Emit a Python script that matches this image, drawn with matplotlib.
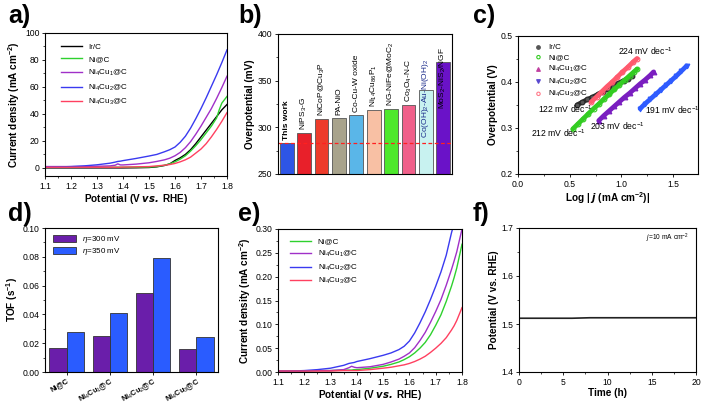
import matplotlib
matplotlib.use("Agg")
import matplotlib.pyplot as plt
from matplotlib.ticker import MultipleLocator, AutoMinorLocator

plt.rcParams['font.family'] = ['Liberation Sans', 'DejaVu Sans']
plt.rcParams['mathtext.fontset'] = 'custom'
plt.rcParams['mathtext.rm'] = 'Liberation Sans'
plt.rcParams['mathtext.it'] = 'Liberation Sans:italic'
plt.rcParams['mathtext.bf'] = 'Liberation Sans:bold'

# ---------------- data ----------------
# panel a: LSV curves
pot_a = [1.10, 1.15, 1.20, 1.25, 1.30, 1.35, 1.37, 1.38, 1.39, 1.40, 1.45, 1.50, 1.53, 1.56,
         1.58, 1.60, 1.62, 1.64, 1.66, 1.68, 1.70, 1.72, 1.74, 1.76, 1.77, 1.78, 1.80]
a_irc = [0, 0, 0, 0, 0, 0, 0, 0, 0, 0, 0.1, 0.3, 0.8, 1.8, 3.0, 5.5, 7.5, 10, 13.5, 18, 23, 28,
         33, 38, 40.5, 43, 47]
a_nic = [0.5, 0.5, 0.5, 0.5, 0.5, 0.5, 0.5, 0.5, 0.5, 0.5, 0.5, 0.6, 1.0, 2.0, 3.0, 4.5, 6.5,
         9.0, 12.5, 16.5, 21, 26, 31, 37, 43, 48, 53]
a_cu1 = [1.0, 1.0, 1.0, 1.1, 1.2, 1.5, 2.0, 3.0, 2.2, 2.2, 2.8, 3.8, 4.8, 6.0, 7.2, 9.0, 11.5,
         15, 19.5, 25, 31, 37.5, 44, 51.5, 55.5, 59.5, 68]
a_cu2 = [0.5, 0.7, 1.0, 1.5, 2.3, 3.5, 4.3, 4.8, 5.0, 5.4, 7.0, 8.8, 10, 12, 13.5, 15.5, 19,
         23.5, 29.5, 36.5, 44, 52, 60.5, 69, 73.5, 78, 87.5]
a_cu3 = [0.5, 0.5, 0.5, 0.5, 0.5, 0.5, 0.5, 0.5, 0.5, 0.6, 0.8, 1.0, 1.5, 2.0, 2.5, 3.3, 4.5,
         6.0, 8.0, 11, 14, 18, 23, 28.5, 31.5, 34.5, 41]

# panel b: overpotential comparison
b_names = ['This work', 'NiPS$_3$-G', 'NiCoP@Cu$_3$P', 'PA-NiO', 'Co-Cu-W oxide',
           'Ni$_{14}$Cu$_{86}$P$_1$', 'NG-NiFe@MoC$_2$', 'Co$_3$O$_4$-N-C',
           'Co(OH)$_2$-Au-Ni(OH)$_2$', 'MoS$_2$-NiS$_2$/NGF']
b_values = [283, 294, 309, 310, 313, 319, 320, 324, 340, 370]
b_colors = ['#2e55e6', '#e8202a', '#ee3b2a', '#a8a38c', '#5ab6e8', '#f8c0a4', '#4ee82c',
            '#f0608a', '#c8f2f0', '#6a12c8']

# panel c: Tafel plots
c_irc_x = [0.57, 0.62, 0.67, 0.72, 0.77, 0.82, 0.87, 0.92, 0.97, 1.02, 1.06, 1.10]
c_irc_y = [0.350, 0.356, 0.362, 0.367, 0.373, 0.379, 0.385, 0.391, 0.397, 0.403, 0.407, 0.412]
c_nic_x = [0.53, 0.58, 0.63, 0.68, 0.73, 0.78, 0.83, 0.88, 0.93, 0.98, 1.03, 1.08, 1.12, 1.15]
c_nic_y = [0.298, 0.309, 0.320, 0.331, 0.342, 0.352, 0.363, 0.373, 0.384, 0.394, 0.404,
           0.414, 0.422, 0.428]
c_cu1_x = [0.78, 0.83, 0.88, 0.93, 0.98, 1.03, 1.08, 1.13, 1.18, 1.23, 1.28, 1.31]
c_cu1_y = [0.316, 0.327, 0.337, 0.347, 0.357, 0.367, 0.376, 0.386, 0.396, 0.405, 0.415, 0.422]
c_cu2_x = [1.18, 1.23, 1.28, 1.33, 1.38, 1.43, 1.48, 1.53, 1.58, 1.63]
c_cu2_y = [0.342, 0.353, 0.363, 0.373, 0.383, 0.393, 0.403, 0.413, 0.424, 0.435]
c_cu3_x = [0.71, 0.76, 0.81, 0.86, 0.91, 0.96, 1.01, 1.06, 1.11, 1.15]
c_cu3_y = [0.357, 0.368, 0.379, 0.390, 0.400, 0.411, 0.422, 0.432, 0.443, 0.451]
c_slopes = ['122 mV dec$^{-1}$', '212 mV dec$^{-1}$', '203 mV dec$^{-1}$',
            '191 mV dec$^{-1}$', '224 mV dec$^{-1}$']

# panel d: TOF
d_cats = ['Ni@C', 'Ni$_4$Cu$_1$@C', 'Ni$_4$Cu$_2$@C', 'Ni$_4$Cu$_3$@C']
d_tof300 = [0.017, 0.025, 0.055, 0.016]
d_tof350 = [0.0275, 0.041, 0.079, 0.024]

# panel e: low current region
pot_e = pot_a
e_nic = [0.002, 0.002, 0.002, 0.003, 0.003, 0.004, 0.004, 0.004, 0.005, 0.005, 0.008, 0.012,
         0.016, 0.021, 0.026, 0.032, 0.040, 0.050, 0.062, 0.078, 0.098, 0.120, 0.148, 0.180,
         0.198, 0.218, 0.268]
e_cu1 = [0.002, 0.002, 0.002, 0.003, 0.003, 0.005, 0.009, 0.012, 0.010, 0.009, 0.011, 0.016,
         0.021, 0.027, 0.033, 0.040, 0.051, 0.066, 0.083, 0.104, 0.127, 0.152, 0.182, 0.215,
         0.233, 0.252, 0.300]
e_cu2 = [0.002, 0.002, 0.003, 0.005, 0.008, 0.014, 0.018, 0.019, 0.020, 0.022, 0.028, 0.035,
         0.040, 0.047, 0.054, 0.065, 0.082, 0.103, 0.126, 0.152, 0.180, 0.210, 0.245, 0.292,
         0.312, 0.330, 0.370]
e_cu3 = [0.002, 0.002, 0.002, 0.002, 0.002, 0.003, 0.003, 0.003, 0.003, 0.003, 0.005, 0.008,
         0.010, 0.013, 0.015, 0.018, 0.022, 0.027, 0.033, 0.041, 0.050, 0.060, 0.072, 0.088,
         0.097, 0.108, 0.135]

# panel f: stability
f_time = [0, 2, 4, 6, 8, 10, 12, 14, 16, 18, 20]
f_pot = [1.512, 1.512, 1.512, 1.512, 1.513, 1.513, 1.513, 1.513, 1.513, 1.513, 1.513]

# ---------------- figure ----------------
W, H = 702, 404
fig = plt.figure(figsize=(W / 100, H / 100), dpi=100)


def add_ax(l, r, t, b):
    return fig.add_axes([l / W, 1 - b / H, (r - l) / W, (b - t) / H])


TICK = 6.2
LAB = 7.2


def style(ax, minor_x=True, minor_y=True):
    ax.tick_params(direction='out', length=2.5, width=0.6, labelsize=TICK, pad=1.5)
    ax.tick_params(which='minor', direction='out', length=1.5, width=0.5)
    if minor_x:
        ax.xaxis.set_minor_locator(AutoMinorLocator(2))
    if minor_y:
        ax.yaxis.set_minor_locator(AutoMinorLocator(2))
    for s in ax.spines.values():
        s.set_linewidth(0.8)


def plabel(x, y, s):
    fig.text(x / W, 1 - y / H, s, fontsize=18, fontweight='bold', ha='left', va='center')


# panel a
ax = add_ax(45, 227, 33, 176)
lw = 1.0
ax.plot(pot_a, a_irc, color='black', lw=lw, label='Ir/C')
ax.plot(pot_a, a_nic, color='#2ed12e', lw=lw, label='Ni@C')
ax.plot(pot_a, a_cu1, color='#a030c8', lw=lw, label='Ni$_4$Cu$_1$@C')
ax.plot(pot_a, a_cu2, color='#3a3af0', lw=lw, label='Ni$_4$Cu$_2$@C')
ax.plot(pot_a, a_cu3, color='#ff4060', lw=lw, label='Ni$_4$Cu$_3$@C')
ax.set_xlim(1.1, 1.8)
ax.set_ylim(-6, 100)
ax.xaxis.set_major_locator(MultipleLocator(0.1))
ax.yaxis.set_major_locator(MultipleLocator(20))
style(ax)
ax.set_xlabel('Potential (V $\\mathbfit{vs.}$ RHE)', fontsize=LAB, fontweight='bold', labelpad=1)
ax.set_ylabel('Current density (mA cm$^{\\mathbf{-2}}$)', fontsize=LAB, fontweight='bold', labelpad=2)
ax.legend(loc='upper left', bbox_to_anchor=(0.06, 0.96), frameon=False, fontsize=5.8,
          handlelength=2.6, labelspacing=0.55, borderaxespad=0.2)
plabel(8, 16, 'a)')

# panel b
ax = add_ax(278, 452, 34, 174)
xs = list(range(len(b_values)))
ax.bar(xs, [v - 250 for v in b_values], bottom=250, width=0.8, color=b_colors,
       edgecolor='#555555', linewidth=0.6)
ax.axhline(283, color='#ff2020', ls=(0, (3, 2)), lw=0.9)
label_base = [286, 297, 312, 313, 316, 322, 323, 327, 289, 320]
label_col = ['black'] * 8 + ['#1a2a8a', 'black']
for i, (nm, yb) in enumerate(zip(b_names, label_base)):
    ax.text(i, yb, nm, rotation=90, ha='center', va='bottom', fontsize=6,
            fontweight='bold' if i == 0 else 'normal', color=label_col[i])
ax.set_xlim(-0.5, 9.5)
ax.set_ylim(250, 400)
ax.yaxis.set_major_locator(MultipleLocator(50))
style(ax, minor_x=False)
ax.set_xticks([])
ax.set_ylabel('Overpotential (mV)', fontsize=LAB, fontweight='bold', labelpad=2)
plabel(238, 16, 'b)')

# panel c
ax = add_ax(518, 698, 36, 174)
ms = 3.4
series_c = [(c_irc_x, c_irc_y, '#2a2a2a', 'o', '#555555'),
            (c_cu3_x, c_cu3_y, '#ff5a6e', 'o', 'none'),
            (c_nic_x, c_nic_y, '#33cc22', 'o', 'none'),
            (c_cu1_x, c_cu1_y, '#7a1ec0', '^', '#7a1ec0'),
            (c_cu2_x, c_cu2_y, '#2f5cff', 'v', '#2f5cff')]
for sx, sy, col, mk, mf in series_c:
    ax.plot(sx, sy, color=col, lw=3.4, solid_capstyle='round')
    ax.plot(sx, sy, mk, color=col, ms=ms, mfc=mf, mew=0.8)
# legend proxies
h = [ax.scatter([], [], marker='o', s=6, color='#555555'),
     ax.scatter([], [], marker='o', s=6, facecolor='none', edgecolor='#33cc22', lw=0.8),
     ax.scatter([], [], marker='^', s=6, color='#c040a0'),
     ax.scatter([], [], marker='v', s=6, color='#5a4ad0'),
     ax.scatter([], [], marker='o', s=6, facecolor='none', edgecolor='#ff7a8a', lw=0.8)]
ax.legend(h, ['Ir/C', 'Ni@C', 'Ni$_4$Cu$_1$@C', 'Ni$_4$Cu$_2$@C', 'Ni$_4$Cu$_3$@C'],
          loc='upper left', bbox_to_anchor=(0.06, 0.98), frameon=False, fontsize=5.8,
          handlelength=1.2, labelspacing=0.3, borderaxespad=0.2, handletextpad=0.6)
txt_pos = [(0.19, 0.341), (0.13, 0.289), (0.70, 0.303), (1.23, 0.339), (0.966, 0.466)]
for (tx, ty), s in zip(txt_pos, c_slopes):
    ax.text(tx, ty, s, fontsize=6.2, ha='left', va='center')
ax.set_xlim(0, 1.74)
ax.set_ylim(0.2, 0.5)
ax.xaxis.set_major_locator(MultipleLocator(0.5))
ax.yaxis.set_major_locator(MultipleLocator(0.1))
style(ax)
ax.set_xlabel('Log | $\\mathbfit{j}$ (mA cm$^{\\mathbf{-2}}$)|', fontsize=LAB, fontweight='bold', labelpad=1)
ax.set_ylabel('Overpotential (V)', fontsize=LAB, fontweight='bold', labelpad=2)
plabel(473, 16, 'c)')

# panel d
ax = add_ax(45, 218, 228, 372)
xs = range(len(d_cats))
ax.bar([x - 0.2 for x in xs], d_tof300, width=0.4, color='#6a1eaa', edgecolor='#333333',
       linewidth=0.6, label='$\\mathit{\\eta}$=300 mV')
ax.bar([x + 0.2 for x in xs], d_tof350, width=0.4, color='#2a5cff', edgecolor='#333333',
       linewidth=0.6, label='$\\mathit{\\eta}$=350 mV')
ax.set_xlim(-0.5, 3.5)
ax.set_ylim(0, 0.10)
ax.yaxis.set_major_locator(MultipleLocator(0.02))
style(ax, minor_x=False)
ax.set_xticks(list(xs))
ax.set_xticklabels(d_cats, rotation=30, ha='right', fontweight='bold', fontsize=5.4,
                   rotation_mode='anchor')
ax.tick_params(axis='x', pad=1)
ax.set_ylabel('TOF (s$^{\\mathbf{-1}}$)', fontsize=LAB, fontweight='bold', labelpad=2)
ax.legend(loc='upper left', bbox_to_anchor=(0.02, 0.99), frameon=False, fontsize=5.8,
          handlelength=2.8, handleheight=1.0, labelspacing=0.1, borderaxespad=0.2)
plabel(8, 214, 'd)')

# panel e
ax = add_ax(278, 462, 229, 372)
ax.plot(pot_e, e_nic, color='#2ed12e', lw=lw, label='Ni@C')
ax.plot(pot_e, e_cu1, color='#a030c8', lw=lw, label='Ni$_4$Cu$_1$@C')
ax.plot(pot_e, e_cu2, color='#3a3af0', lw=lw, label='Ni$_4$Cu$_2$@C')
ax.plot(pot_e, e_cu3, color='#ff4060', lw=lw, label='Ni$_4$Cu$_3$@C')
ax.set_xlim(1.1, 1.8)
ax.set_ylim(0, 0.30)
ax.xaxis.set_major_locator(MultipleLocator(0.1))
ax.yaxis.set_major_locator(MultipleLocator(0.05))
style(ax)
ax.set_xlabel('Potential (V $\\mathbfit{vs.}$ RHE)', fontsize=LAB, fontweight='bold', labelpad=1)
ax.set_ylabel('Current density (mA cm$^{\\mathbf{-2}}$)', fontsize=LAB, fontweight='bold', labelpad=2)
ax.legend(loc='upper left', bbox_to_anchor=(0.04, 0.97), frameon=False, fontsize=5.8,
          handlelength=2.6, labelspacing=0.4, borderaxespad=0.2)
plabel(238, 214, 'e)')

# panel f
ax = add_ax(519, 696, 228, 372)
ax.plot(f_time, f_pot, color='#222222', lw=1.2)
ax.set_xlim(0, 20)
ax.set_ylim(1.4, 1.7)
ax.xaxis.set_major_locator(MultipleLocator(5))
ax.yaxis.set_major_locator(MultipleLocator(0.1))
style(ax)
ax.text(0.96, 0.93, '$\\mathit{j}$=10 mA cm$^{-2}$', transform=ax.transAxes, fontsize=4.8,
        ha='right', va='center')
ax.set_xlabel('Time (h)', fontsize=LAB, fontweight='bold', labelpad=1)
ax.set_ylabel('Potential (V vs. RHE)', fontsize=LAB, fontweight='bold', labelpad=2)
plabel(473, 214, 'f)')

fig.savefig('out.png', dpi=100)
